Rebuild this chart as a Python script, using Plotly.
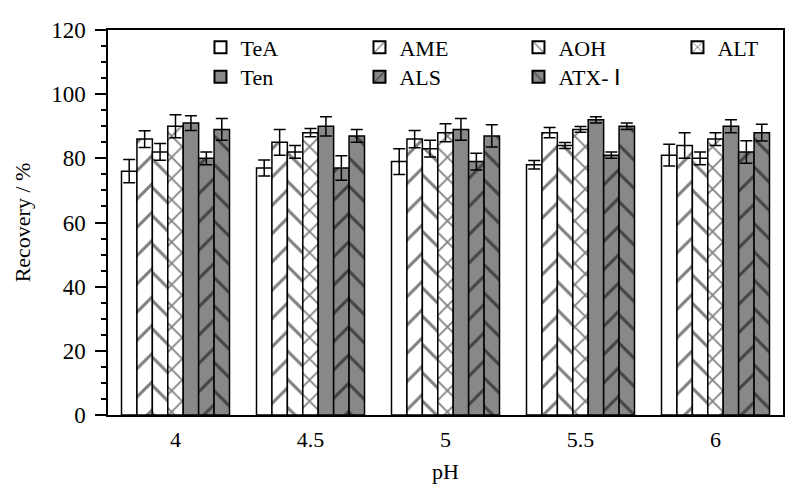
import plotly.graph_objects as go

ph_labels = ["4", "4.5", "5", "5.5", "6"]
series_names = ["TeA", "AME", "AOH", "ALT", "Ten", "ALS", "ATX- Ⅰ"]

tea = [76, 77, 79, 78, 81]
ame = [86, 85, 86, 88, 84]
aoh = [82, 82, 83, 84, 80]
alt = [90, 88, 88, 89, 86]
ten = [91, 90, 89, 92, 90]
als = [80, 77, 79, 81, 82]
atx = [89, 87, 87, 90, 88]

tea_err = [3.6, 2.5, 4.0, 1.3, 3.4]
ame_err = [2.6, 4.0, 2.7, 1.6, 4.0]
aoh_err = [2.6, 2.0, 2.6, 0.9, 2.0]
alt_err = [3.6, 1.3, 2.8, 0.9, 2.0]
ten_err = [2.3, 3.0, 3.4, 1.0, 2.0]
als_err = [2.0, 3.8, 2.6, 1.0, 3.5]
atx_err = [3.4, 2.0, 3.5, 1.0, 2.6]

values = [tea, ame, aoh, alt, ten, als, atx]
errors = [tea_err, ame_err, aoh_err, alt_err, ten_err, als_err, atx_err]

GRAY = "#888888"
fills = ["white", "white", "white", "white", GRAY, GRAY, GRAY]
shapes = ["", "/", "\\", "x", "", "/", "\\"]
sizes = [20, 20, 20, 15, 20, 20, 20]
solid = [0.15, 0.15, 0.15, 0.22, 0.15, 0.15, 0.15]
legend_rows = ["legend", "legend", "legend", "legend", "legend2", "legend2", "legend2"]

FONT = "Liberation Serif"

fig = go.Figure()
for name, v, e, fc, sh, sz, so, lg in zip(series_names, values, errors, fills,
                                          shapes, sizes, solid, legend_rows):
    fig.add_trace(go.Bar(
        name=name, x=ph_labels, y=v, legend=lg,
        marker=dict(color=fc, line=dict(color="black", width=1.5),
                    pattern=dict(shape=sh, fgcolor="black", bgcolor=fc,
                                 size=sz, solidity=so, fillmode="overlay")),
        error_y=dict(type="data", array=e, visible=True, color="black",
                     thickness=1.5, width=6),
    ))

legend_common = dict(orientation="h", xanchor="left", yanchor="middle",
                     entrywidth=114, entrywidthmode="pixels",
                     font=dict(family=FONT, size=22, color="black"),
                     bgcolor="rgba(0,0,0,0)", itemsizing="constant")

fig.update_layout(
    width=800, height=494,
    margin=dict(l=108, r=17, t=30, b=79, autoexpand=False),
    plot_bgcolor="white", paper_bgcolor="white",
    barmode="group", bargap=0.2, bargroupgap=0,
    font=dict(family=FONT, size=22, color="black"),
    showlegend=True,
    legend=dict(x=0.137, y=0.955, **legend_common),
    legend2=dict(x=0.137, y=0.878, **legend_common),
)
fig.update_xaxes(
    automargin=False,
    showline=True, linecolor="black", linewidth=1.5, mirror=True,
    ticks="", tickfont=dict(family=FONT, size=22), ticklabelstandoff=4,
    title=dict(text="pH", font=dict(family=FONT, size=22), standoff=12),
)
fig.update_yaxes(
    automargin=False,
    range=[0, 120], dtick=20, showline=True, linecolor="black", linewidth=1.5,
    mirror=True, ticks="outside", ticklen=11, tickwidth=1.5, tickcolor="black",
    minor=dict(dtick=5, ticks="outside", ticklen=5, tickwidth=1.5, tickcolor="black"),
    showgrid=False, zeroline=False,
    tickfont=dict(family=FONT, size=23), ticklabelstandoff=5,
    title=dict(text="Recovery / %", font=dict(family=FONT, size=22), standoff=14),
)

fig.write_html("out.html", config={"displayModeBar": False},
               post_script="document.body.style.margin='0';document.body.style.padding='0';")
